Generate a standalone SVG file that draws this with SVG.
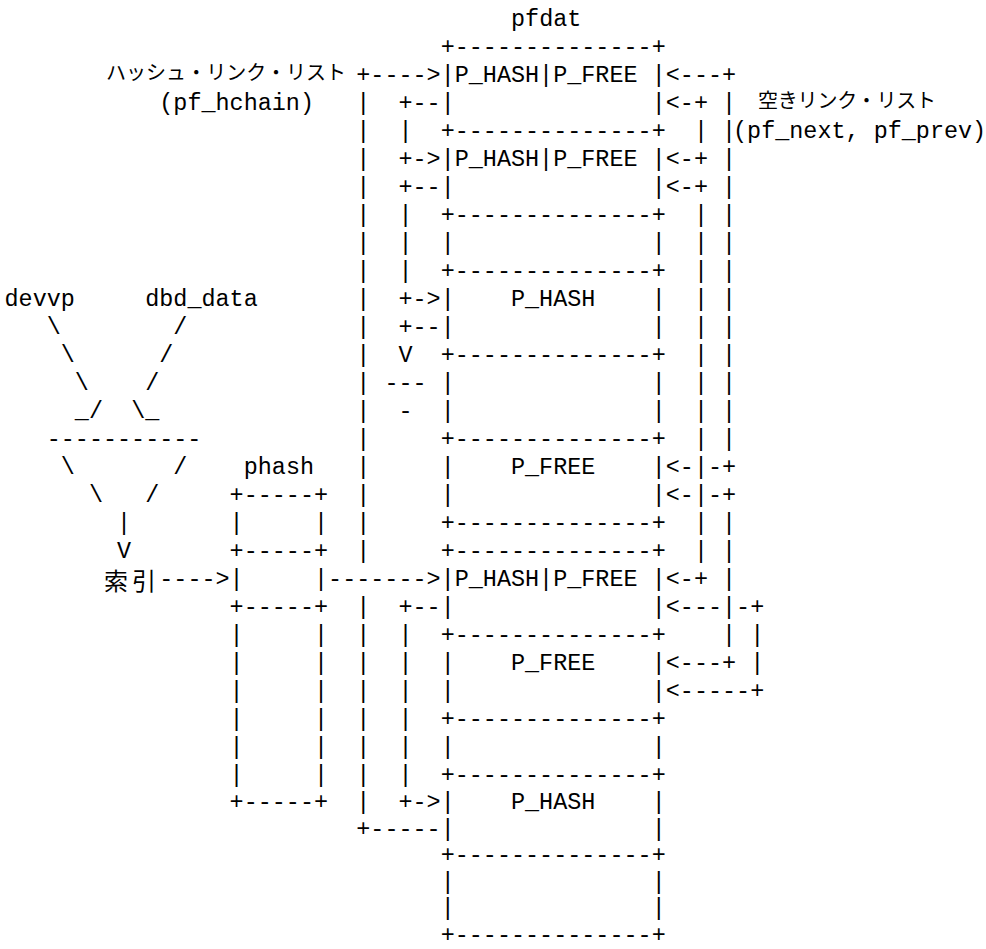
<svg xmlns="http://www.w3.org/2000/svg" width="986" height="949" viewBox="0 0 986 949">
<style>
.m { font-family: "Liberation Mono", "DejaVu Sans Mono", monospace; font-size: 23.45px; fill: #000; }
.j { font-family: "Noto Sans CJK JP", "Noto Sans CJK SC", sans-serif; font-size: 20px; fill: #000; }
.k { font-family: "Noto Sans CJK JP", "Noto Sans CJK SC", sans-serif; font-size: 24px; fill: #000; }
</style>
<rect width="986" height="949" fill="#fff"/>

<g id="pfdat" class="m">
<text x="511.02" y="25.5">pfdat</text>
<text x="440.67" y="53.5">+--------------+</text>
<text x="440.67" y="81.5">|P_HASH|P_FREE&#160;|</text>
<text x="440.67" y="109.5">|&#160;&#160;&#160;&#160;&#160;&#160;&#160;&#160;&#160;&#160;&#160;&#160;&#160;&#160;|</text>
<text x="440.67" y="137.5">+--------------+</text>
<text x="440.67" y="165.5">|P_HASH|P_FREE&#160;|</text>
<text x="440.67" y="193.5">|&#160;&#160;&#160;&#160;&#160;&#160;&#160;&#160;&#160;&#160;&#160;&#160;&#160;&#160;|</text>
<text x="440.67" y="221.5">+--------------+</text>
<text x="440.67" y="249.5">|&#160;&#160;&#160;&#160;&#160;&#160;&#160;&#160;&#160;&#160;&#160;&#160;&#160;&#160;|</text>
<text x="440.67" y="277.5">+--------------+</text>
<text x="440.67" y="305.5">|&#160;&#160;&#160;&#160;P_HASH&#160;&#160;&#160;&#160;|</text>
<text x="440.67" y="333.5">|&#160;&#160;&#160;&#160;&#160;&#160;&#160;&#160;&#160;&#160;&#160;&#160;&#160;&#160;|</text>
<text x="440.67" y="361.5">+--------------+</text>
<text x="440.67" y="389.5">|&#160;&#160;&#160;&#160;&#160;&#160;&#160;&#160;&#160;&#160;&#160;&#160;&#160;&#160;|</text>
<text x="440.67" y="417.5">|&#160;&#160;&#160;&#160;&#160;&#160;&#160;&#160;&#160;&#160;&#160;&#160;&#160;&#160;|</text>
<text x="440.67" y="445.5">+--------------+</text>
<text x="440.67" y="473.5">|&#160;&#160;&#160;&#160;P_FREE&#160;&#160;&#160;&#160;|</text>
<text x="440.67" y="501.5">|&#160;&#160;&#160;&#160;&#160;&#160;&#160;&#160;&#160;&#160;&#160;&#160;&#160;&#160;|</text>
<text x="440.67" y="529.5">+--------------+</text>
<text x="440.67" y="557.5">+--------------+</text>
<text x="440.67" y="585.5">|P_HASH|P_FREE&#160;|</text>
<text x="440.67" y="613.5">|&#160;&#160;&#160;&#160;&#160;&#160;&#160;&#160;&#160;&#160;&#160;&#160;&#160;&#160;|</text>
<text x="440.67" y="641.5">+--------------+</text>
<text x="440.67" y="669.5">|&#160;&#160;&#160;&#160;P_FREE&#160;&#160;&#160;&#160;|</text>
<text x="440.67" y="697.5">|&#160;&#160;&#160;&#160;&#160;&#160;&#160;&#160;&#160;&#160;&#160;&#160;&#160;&#160;|</text>
<text x="440.67" y="725.5">+--------------+</text>
<text x="440.67" y="753.5">|&#160;&#160;&#160;&#160;&#160;&#160;&#160;&#160;&#160;&#160;&#160;&#160;&#160;&#160;|</text>
<text x="440.67" y="781.5">+--------------+</text>
<text x="440.67" y="809">|&#160;&#160;&#160;&#160;P_HASH&#160;&#160;&#160;&#160;|</text>
<text x="440.67" y="835.6">|&#160;&#160;&#160;&#160;&#160;&#160;&#160;&#160;&#160;&#160;&#160;&#160;&#160;&#160;|</text>
<text x="440.67" y="862.2">+--------------+</text>
<text x="440.67" y="888.8">|&#160;&#160;&#160;&#160;&#160;&#160;&#160;&#160;&#160;&#160;&#160;&#160;&#160;&#160;|</text>
<text x="440.67" y="915.4">|&#160;&#160;&#160;&#160;&#160;&#160;&#160;&#160;&#160;&#160;&#160;&#160;&#160;&#160;|</text>
<text x="440.67" y="942">+--------------+</text>
</g>

<g id="phash" class="m">
<text x="243.69" y="473.5">phash</text>
<text x="229.62" y="501.5">+-----+</text>
<text x="229.62" y="529.5">|&#160;&#160;&#160;&#160;&#160;|</text>
<text x="229.62" y="557.5">+-----+</text>
<text x="229.62" y="585.5">|&#160;&#160;&#160;&#160;&#160;|</text>
<text x="229.62" y="613.5">+-----+</text>
<text x="229.62" y="641.5">|&#160;&#160;&#160;&#160;&#160;|</text>
<text x="229.62" y="669.5">|&#160;&#160;&#160;&#160;&#160;|</text>
<text x="229.62" y="697.5">|&#160;&#160;&#160;&#160;&#160;|</text>
<text x="229.62" y="725.5">|&#160;&#160;&#160;&#160;&#160;|</text>
<text x="229.62" y="753.5">|&#160;&#160;&#160;&#160;&#160;|</text>
<text x="229.62" y="781.5">|&#160;&#160;&#160;&#160;&#160;|</text>
<text x="229.62" y="809">+-----+</text>
</g>

<g id="hash-list-label">
<text class="j" x="106" y="80.3" textLength="240" lengthAdjust="spacing">ハッシュ・リンク・リスト</text>
<text class="m" x="159.27" y="109.5">(pf_hchain)</text>
</g>

<g id="free-list-label">
<text class="j" x="758" y="108.3" textLength="178" lengthAdjust="spacing">空きリンク・リスト</text>
<text class="m" x="733" y="137.5">(pf_next,&#160;pf_prev)</text>
</g>

<g id="index-calc" class="m">
<text x="4.5" y="305.5">devvp</text>
<text x="145.2" y="305.5">dbd_data</text>
<text x="46.71" y="333.5">\</text>
<text x="173.34" y="333.5">/</text>
<text x="60.78" y="361.5">\</text>
<text x="159.27" y="361.5">/</text>
<text x="74.85" y="389.5">\</text>
<text x="145.2" y="389.5">/</text>
<text x="74.85" y="417.5">_/</text>
<text x="131.13" y="417.5">\_</text>
<text x="46.71" y="445.5">-----------</text>
<text x="60.78" y="473.5">\</text>
<text x="173.34" y="473.5">/</text>
<text x="88.92" y="501.5">\</text>
<text x="145.2" y="501.5">/</text>
<text x="117.06" y="529.5">|</text>
<text x="117.06" y="557.5">V</text>
<text class="k" x="104 132" y="590">索引</text>
</g>

<g id="connectors" class="m">
<text x="159.27" y="585.5">----&gt;</text>
<text x="328.11" y="585.5">-------&gt;</text>
<text x="356.25" y="81.5">+----&gt;</text>
<text x="356.25" y="109.5">|&#160;&#160;+--</text>
<text x="356.25" y="137.5">|&#160;&#160;|</text>
<text x="356.25" y="165.5">|&#160;&#160;+-&gt;</text>
<text x="356.25" y="193.5">|&#160;&#160;+--</text>
<text x="356.25" y="221.5">|&#160;&#160;|</text>
<text x="356.25" y="249.5">|&#160;&#160;|</text>
<text x="356.25" y="277.5">|&#160;&#160;|</text>
<text x="356.25" y="305.5">|&#160;&#160;+-&gt;</text>
<text x="356.25" y="333.5">|&#160;&#160;+--</text>
<text x="356.25" y="361.5">|&#160;&#160;V</text>
<text x="356.25" y="389.5">|&#160;---</text>
<text x="356.25" y="417.5">|&#160;&#160;-</text>
<text x="356.25" y="445.5">|</text>
<text x="356.25" y="473.5">|</text>
<text x="356.25" y="501.5">|</text>
<text x="356.25" y="529.5">|</text>
<text x="356.25" y="557.5">|</text>
<text x="356.25" y="613.5">|&#160;&#160;+--</text>
<text x="356.25" y="641.5">|&#160;&#160;|</text>
<text x="356.25" y="669.5">|&#160;&#160;|</text>
<text x="356.25" y="697.5">|&#160;&#160;|</text>
<text x="356.25" y="725.5">|&#160;&#160;|</text>
<text x="356.25" y="753.5">|&#160;&#160;|</text>
<text x="356.25" y="781.5">|&#160;&#160;|</text>
<text x="356.25" y="809">|&#160;&#160;+-&gt;</text>
<text x="356.25" y="835.6">+-----</text>

<text x="665.79" y="81.5">&lt;---+</text>
<text x="665.79" y="109.5">&lt;-+&#160;|</text>
<text x="693.93" y="137.5">|&#160;|</text>
<text x="665.79" y="165.5">&lt;-+&#160;|</text>
<text x="665.79" y="193.5">&lt;-+&#160;|</text>
<text x="693.93" y="221.5">|&#160;|</text>
<text x="693.93" y="249.5">|&#160;|</text>
<text x="693.93" y="277.5">|&#160;|</text>
<text x="693.93" y="305.5">|&#160;|</text>
<text x="693.93" y="333.5">|&#160;|</text>
<text x="693.93" y="361.5">|&#160;|</text>
<text x="693.93" y="389.5">|&#160;|</text>
<text x="693.93" y="417.5">|&#160;|</text>
<text x="693.93" y="445.5">|&#160;|</text>
<text x="665.79" y="473.5">&lt;-|-+</text>
<text x="665.79" y="501.5">&lt;-|-+</text>
<text x="693.93" y="529.5">|&#160;|</text>
<text x="693.93" y="557.5">|&#160;|</text>
<text x="665.79" y="585.5">&lt;-+&#160;|</text>
<text x="665.79" y="613.5">&lt;---|-+</text>
<text x="722.07" y="641.5">|&#160;|</text>
<text x="665.79" y="669.5">&lt;---+&#160;|</text>
<text x="665.79" y="697.5">&lt;-----+</text>
</g>
</svg>
